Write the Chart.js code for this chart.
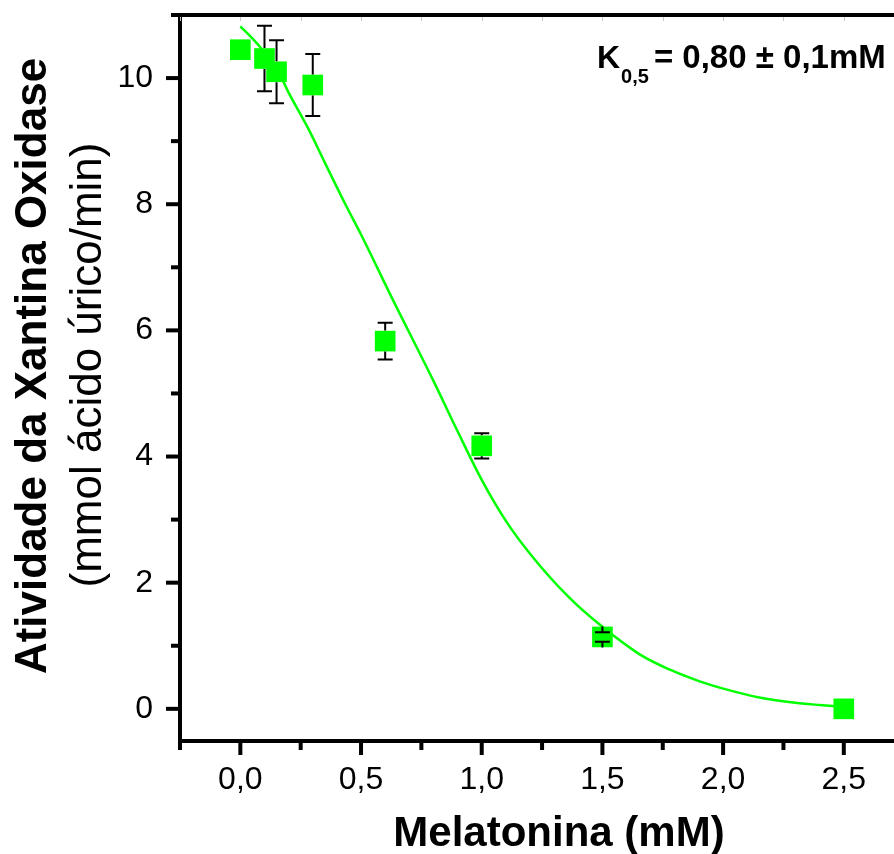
<!DOCTYPE html>
<html><head><meta charset="utf-8">
<script src="https://cdn.jsdelivr.net/npm/chart.js@4"></script>
<style>html,body{margin:0;padding:0;background:#fff;overflow:hidden}#wrap{width:894px;height:854px}</style>
</head><body><div id="wrap"><canvas id="c" width="894" height="854"></canvas></div>
<script>
// Data points (Melatonina mM vs activity)
const melatonina = [0, 0.1, 0.15, 0.3, 0.6, 1.0, 1.5, 2.5];
const atividade  = [10.45, 10.31, 10.10, 9.89, 5.83, 4.17, 1.14, 0.0];
const erro       = [0, 0.52, 0.50, 0.49, 0.29, 0.20, 0.075, 0];
// Fitted curve
const ajusteX = [0, 0.05, 0.1, 0.15, 0.2, 0.28, 0.35, 0.435, 0.5, 0.63, 0.8, 0.9, 1.0, 1.1, 1.2, 1.366, 1.5, 1.656, 1.78, 1.9, 2.02, 2.15, 2.29, 2.4, 2.5];
const ajusteY = [10.82, 10.63, 10.41, 10.16, 9.77, 9.21, 8.66, 8.0, 7.52, 6.5, 5.2, 4.4, 3.63, 2.98, 2.46, 1.75, 1.30, 0.86, 0.62, 0.44, 0.30, 0.18, 0.10, 0.06, 0.03];
// Tick labels
const xTickValues = [0, 0.5, 1.0, 1.5, 2.0, 2.5];
const xTickLabels = ['0,0', '0,5', '1,0', '1,5', '2,0', '2,5'];
const yTickValues = [0, 2, 4, 6, 8, 10];
const yTickLabels = ['0', '2', '4', '6', '8', '10'];
const xTitle = 'Melatonina (mM)';
const yTitle1 = 'Atividade da Xantina Oxidase';
const yTitle2 = '(mmol ácido úrico/min)';
const kMain = 'K', kSub = '0,5', kRest = '= 0,80 ± 0,1mM';

const FONT = '"Liberation Sans", Arial, Helvetica, sans-serif';
const GREEN = '#00ff00';

function lookup(vals, labels, v) {
  for (let i = 0; i < vals.length; i++) if (Math.abs(vals[i] - v) < 1e-6) return labels[i];
  return '';
}
function noPad(s) { s.paddingTop = 0; s.paddingBottom = 0; s.paddingLeft = 0; s.paddingRight = 0; }

const framePlugin = {
  id: 'frame',
  afterDatasetsDraw(chart) {
    const ctx = chart.ctx, xs = chart.scales.x, ys = chart.scales.y;
    ctx.save();
    ctx.strokeStyle = '#000'; ctx.lineWidth = 2;
    melatonina.forEach((xv, i) => {
      if (!erro[i]) return;
      const px = xs.getPixelForValue(xv), py = ys.getPixelForValue(atividade[i]);
      const e = Math.abs(ys.getPixelForValue(atividade[i] + erro[i]) - py);
      const half = 10.5;
      ctx.beginPath();
      ctx.moveTo(px, py - half); ctx.lineTo(px, py - e);
      ctx.moveTo(px - 7.5, py - e); ctx.lineTo(px + 7.5, py - e);
      ctx.moveTo(px, py + half); ctx.lineTo(px, py + e);
      ctx.moveTo(px - 7.5, py + e); ctx.lineTo(px + 7.5, py + e);
      ctx.stroke();
    });
    ctx.restore();
  },
  afterDraw(chart) {
    const ctx = chart.ctx, xs = chart.scales.x, ys = chart.scales.y, ca = chart.chartArea;
    ctx.save();
    ctx.strokeStyle = '#000'; ctx.lineWidth = 4; ctx.lineCap = 'butt';
    ctx.beginPath();
    ctx.moveTo(ca.left, ca.top - 2); ctx.lineTo(ca.left, ca.bottom + 2);
    ctx.moveTo(ca.left - 2, ca.bottom); ctx.lineTo(ca.right, ca.bottom);
    ctx.moveTo(ca.left, ca.top); ctx.lineTo(ca.right, ca.top);
    ctx.stroke();
    xs.ticks.forEach(t => {
      const v = t.value;
      if (Math.abs(v * 4 - Math.round(v * 4)) > 1e-6) return;
      const major = Math.abs(v * 2 - Math.round(v * 2)) < 1e-6;
      const px = xs.getPixelForValue(v);
      ctx.beginPath(); ctx.moveTo(px, ca.bottom); ctx.lineTo(px, ca.bottom + (major ? 14 : 9)); ctx.stroke();
    });
    ys.ticks.forEach(t => {
      const v = t.value;
      if (Math.abs(v - Math.round(v)) > 1e-6) return;
      const major = Math.round(v) % 2 === 0;
      const py = ys.getPixelForValue(v);
      ctx.beginPath(); ctx.moveTo(ca.left, py); ctx.lineTo(ca.left - (major ? 14 : 9), py); ctx.stroke();
    });
    ctx.strokeStyle = '#c8c8c8'; ctx.lineWidth = 1;
    xs.ticks.forEach(t => {
      const v = t.value;
      if (Math.abs(v * 4 - Math.round(v * 4)) > 1e-6) return;
      const px = Math.round(xs.getPixelForValue(v)) + 0.5;
      ctx.beginPath(); ctx.moveTo(px, ca.top + 2); ctx.lineTo(px, ca.top + 6); ctx.stroke();
    });
    ctx.fillStyle = '#000';
    ctx.textAlign = 'center'; ctx.textBaseline = 'alphabetic';
    ctx.font = 'bold 42px ' + FONT;
    ctx.fillText(xTitle, 559, 846);
    ctx.save();
    ctx.translate(46, 366); ctx.rotate(-Math.PI / 2);
    ctx.font = 'bold 44px ' + FONT;
    ctx.fillText(yTitle1, 0, 0);
    ctx.restore();
    ctx.save();
    ctx.translate(101, 365); ctx.rotate(-Math.PI / 2);
    ctx.font = '44px ' + FONT;
    ctx.fillText(yTitle2, 0, 0);
    ctx.restore();
    ctx.textAlign = 'left';
    ctx.font = 'bold 32px ' + FONT;
    ctx.fillText(kMain, 597, 68);
    let x = 597 + ctx.measureText(kMain).width;
    ctx.font = 'bold 20px ' + FONT;
    ctx.fillText(kSub, x + 1, 83);
    x += 1 + ctx.measureText(kSub).width;
    ctx.font = 'bold 33px ' + FONT;
    ctx.fillText(kRest, x + 5, 68);
    ctx.restore();
  }
};

new Chart(document.getElementById('c'), {
  data: {
    datasets: [
      {
        type: 'scatter',
        data: melatonina.map((x, i) => ({ x, y: atividade[i] })),
        pointStyle: 'rect', pointRadius: 14.6, pointHoverRadius: 14.6,
        backgroundColor: GREEN, borderColor: GREEN, borderWidth: 0, showLine: false
      },
      {
        type: 'line',
        data: ajusteX.map((x, i) => ({ x, y: ajusteY[i] })),
        borderColor: GREEN, borderWidth: 2.5, pointRadius: 0, fill: false,
        cubicInterpolationMode: 'monotone'
      }
    ]
  },
  options: {
    responsive: false, animation: false,
    layout: { autoPadding: false, padding: { top: 15, right: 0, left: 0, bottom: 0 } },
    plugins: { legend: { display: false }, tooltip: { enabled: false } },
    scales: {
      x: {
        type: 'linear', min: -0.25, max: 2.708,
        afterFit(s) { s.height = 113; noPad(s); },
        grid: { display: false, drawTicks: false }, border: { display: false },
        ticks: {
          stepSize: 0.25, autoSkip: false, maxRotation: 0, padding: 20, includeBounds: false,
          color: '#000', font: { family: FONT, size: 32 },
          callback: v => lookup(xTickValues, xTickLabels, v)
        }
      },
      y: {
        type: 'linear', min: -0.51, max: 11,
        afterFit(s) { s.width = 180; noPad(s); },
        grid: { display: false, drawTicks: false }, border: { display: false },
        ticks: {
          stepSize: 1, autoSkip: false, padding: 27, includeBounds: false,
          color: '#000', font: { family: FONT, size: 32 },
          callback: v => lookup(yTickValues, yTickLabels, v)
        }
      }
    }
  },
  plugins: [framePlugin]
});
</script></body></html>
